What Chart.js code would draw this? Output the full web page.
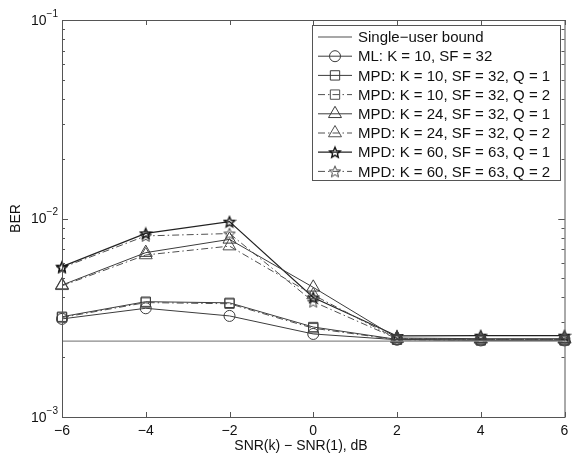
<!DOCTYPE html>
<html>
<head>
<meta charset="utf-8">
<script src="https://cdn.jsdelivr.net/npm/chart.js@4.4.0/dist/chart.umd.min.js"></script>
<style>
html, body { margin: 0; padding: 0; background: #fff; }
#wrap { width: 573px; height: 455px; }
</style>
</head>
<body>
<div id="wrap"><canvas id="myChart" width="573" height="455"></canvas></div>
<script>
// Данные
const snrDiff = [-6, -4, -2, 0, 2, 4, 6];
const boundBer = [0.00241, 0.00241, 0.00241, 0.00241, 0.00241, 0.00241, 0.00241];
const mlK10 = [0.00312, 0.00353, 0.00323, 0.00262, 0.00245, 0.00243, 0.00243];
const mpdK10Q1 = [0.00320, 0.00381, 0.00376, 0.00284, 0.00246, 0.00244, 0.00244];
const mpdK10Q2 = [0.00317, 0.00377, 0.00372, 0.00280, 0.00245, 0.00243, 0.00243];
const mpdK24Q1 = [0.00462, 0.00673, 0.00785, 0.00450, 0.00250, 0.00248, 0.00248];
const mpdK24Q2 = [0.00458, 0.00655, 0.00726, 0.00412, 0.00248, 0.00246, 0.00246];
const mpdK60Q1 = [0.00572, 0.00842, 0.00964, 0.00400, 0.00256, 0.00257, 0.00257];
const mpdK60Q2 = [0.00565, 0.00817, 0.00840, 0.00381, 0.00248, 0.00246, 0.00246];

const seriesLabels = [
    'Single\u2212user bound',
    'ML: K = 10, SF = 32',
    'MPD: K = 10, SF = 32, Q = 1',
    'MPD: K = 10, SF = 32, Q = 2',
    'MPD: K = 24, SF = 32, Q = 1',
    'MPD: K = 24, SF = 32, Q = 2',
    'MPD: K = 60, SF = 63, Q = 1',
    'MPD: K = 60, SF = 63, Q = 2'
];

const xTicks = [-6, -4, -2, 0, 2, 4, 6];
const xTickLabels = ['\u22126', '\u22124', '\u22122', '0', '2', '4', '6'];
const yDecades = [0.001, 0.01, 0.1];
const yDecadeExp = ['\u22123', '\u22122', '\u22121'];

const FONT = 'Liberation Sans, Arial, sans-serif';
const dashDot = [7, 3, 1.5, 3];

// Пятиконечная звезда как картинка для маркера
function makeStar(size, color, lw) {
    const c = document.createElement('canvas');
    c.width = size;
    c.height = size;
    const g = c.getContext('2d');
    const cx = size / 2, cy = size / 2 + 0.6;
    const R = size / 2 - lw, r = R * 0.45;
    g.beginPath();
    for (let i = 0; i < 10; i++) {
        const a = -Math.PI / 2 + i * Math.PI / 5;
        const rr = (i % 2) ? r : R;
        g.lineTo(cx + rr * Math.cos(a), cy + rr * Math.sin(a));
    }
    g.closePath();
    g.strokeStyle = color;
    g.lineWidth = lw;
    g.stroke();
    return c;
}

const starQ1 = makeStar(14, '#111', 1.4);
const starQ2 = makeStar(14, '#444', 1);

function pts(values) {
    return values.map((v, i) => ({ x: snrDiff[i], y: v }));
}

function series(label, values, color, dash, width, style, radius) {
    return {
        label: label,
        data: pts(values),
        borderColor: color,
        backgroundColor: 'rgba(0,0,0,0)',
        borderWidth: width,
        borderDash: dash,
        pointStyle: style,
        pointRadius: radius,
        pointBorderColor: color,
        pointBorderWidth: 1,
        pointBackgroundColor: 'rgba(0,0,0,0)',
        tension: 0,
        clip: false
    };
}

const datasets = [
    series(seriesLabels[0], boundBer, '#8a8a8a', [], 1.3, false, 0),
    series(seriesLabels[1], mlK10, '#3c3c3c', [], 1, 'circle', 5.5),
    series(seriesLabels[2], mpdK10Q1, '#3c3c3c', [], 1, 'rect', 6.6),
    series(seriesLabels[3], mpdK10Q2, '#505050', dashDot, 1, 'rect', 6.6),
    series(seriesLabels[4], mpdK24Q1, '#3c3c3c', [], 1, 'triangle', 7.5),
    series(seriesLabels[5], mpdK24Q2, '#505050', dashDot, 1, 'triangle', 7.5),
    series(seriesLabels[6], mpdK60Q1, '#222', [], 1.2, starQ1, 7),
    series(seriesLabels[7], mpdK60Q2, '#505050', dashDot, 1, starQ2, 7)
];

// Рамка осей, засечки внутрь, подписи и легенда
const axesPlugin = {
    id: 'matlabAxes',
    afterDraw(chart) {
        const ctx = chart.ctx;
        const a = chart.chartArea;
        const xs = chart.scales.x;
        const ys = chart.scales.y;
        ctx.save();
        ctx.strokeStyle = '#555';
        ctx.lineWidth = 1;
        ctx.strokeRect(a.left + 0.5, a.top + 0.5, a.right - a.left, a.bottom - a.top);

        ctx.beginPath();
        xTicks.forEach(t => {
            const px = Math.round(xs.getPixelForValue(t)) + 0.5;
            ctx.moveTo(px, a.bottom);
            ctx.lineTo(px, a.bottom - 5);
            ctx.moveTo(px, a.top);
            ctx.lineTo(px, a.top + 5);
        });
        for (let d = 0.001; d < 0.1; d *= 10) {
            for (let m = 1; m <= 10; m++) {
                const v = d * m;
                if (v > 0.1 + 1e-9) continue;
                const py = Math.round(ys.getPixelForValue(v)) + 0.5;
                const len = (m === 1 || m === 10) ? 6 : 3;
                ctx.moveTo(a.left, py);
                ctx.lineTo(a.left + len, py);
                ctx.moveTo(a.right, py);
                ctx.lineTo(a.right - len, py);
            }
        }
        ctx.stroke();

        // подписи осей
        ctx.fillStyle = '#111';
        ctx.font = '14px ' + FONT;
        ctx.textAlign = 'center';
        ctx.textBaseline = 'middle';
        xTicks.forEach((t, i) => {
            ctx.fillText(xTickLabels[i], xs.getPixelForValue(t), a.bottom + 14);
        });
        yDecades.forEach((v, i) => {
            const py = ys.getPixelForValue(v);
            ctx.font = '10px ' + FONT;
            ctx.textAlign = 'right';
            const ew = ctx.measureText(yDecadeExp[i]).width;
            ctx.fillText(yDecadeExp[i], a.left - 4, py - 6);
            ctx.font = '14px ' + FONT;
            ctx.fillText('10', a.left - 4 - ew, py + 1);
        });
        ctx.textAlign = 'center';
        ctx.font = '14px ' + FONT;
        ctx.fillText('SNR(k) \u2212 SNR(1), dB', 301, 446);
        ctx.save();
        ctx.translate(16, (a.top + a.bottom) / 2);
        ctx.rotate(-Math.PI / 2);
        ctx.fillText('BER', 0, 0);
        ctx.restore();

        // легенда
        const lx = 312, ly = 25, lw = 248, lh = 155;
        ctx.fillStyle = '#fff';
        ctx.fillRect(lx, ly, lw, lh);
        ctx.strokeStyle = '#555';
        ctx.strokeRect(lx + 0.5, ly + 0.5, lw, lh);
        ctx.font = '15px ' + FONT;
        ctx.textAlign = 'left';
        chart.data.datasets.forEach((ds, i) => {
            const y = ly + 12 + i * 19.2;
            ctx.strokeStyle = ds.borderColor;
            ctx.lineWidth = ds.borderWidth;
            ctx.setLineDash(ds.borderDash);
            ctx.beginPath();
            ctx.moveTo(318, y);
            ctx.lineTo(352, y);
            ctx.stroke();
            ctx.setLineDash([]);
            if (ds.pointStyle && Chart.helpers && Chart.helpers.drawPoint) {
                ctx.lineWidth = 1;
                ctx.fillStyle = 'rgba(0,0,0,0)';
                Chart.helpers.drawPoint(ctx, {
                    pointStyle: ds.pointStyle,
                    radius: ds.pointRadius,
                    rotation: 0,
                    borderWidth: 1
                }, 335, y);
            }
            ctx.fillStyle = '#111';
            ctx.fillText(ds.label, 358, y + 1);
        });
        ctx.restore();
    }
};

const ctx = document.getElementById('myChart').getContext('2d');
const myChart = new Chart(ctx, {
    type: 'line',
    data: { datasets: datasets },
    options: {
        responsive: false,
        animation: false,
        devicePixelRatio: 1,
        layout: { padding: { left: 62, top: 20, right: 5, bottom: 38 } },
        plugins: { legend: { display: false }, tooltip: { enabled: false } },
        scales: {
            x: { type: 'linear', min: -6, max: 6, display: false },
            y: { type: 'logarithmic', min: 0.001, max: 0.1, display: false }
        }
    },
    plugins: [axesPlugin]
});
</script>
</body>
</html>
